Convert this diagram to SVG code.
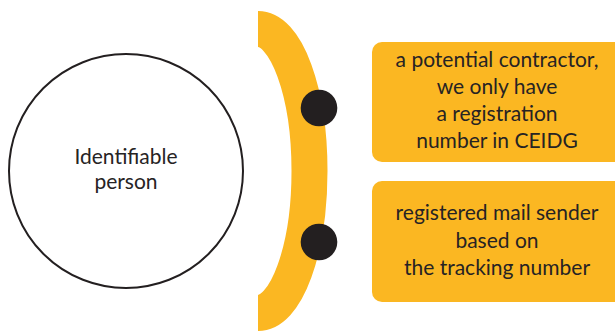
<svg xmlns="http://www.w3.org/2000/svg" width="615" height="331" viewBox="0 0 615 331">
  <style>
    .label { font-family: Lato, "Liberation Sans", sans-serif; font-size: 21px; fill: #262324; text-anchor: middle; }
    .box { fill: #FBB722; }
    .dot { fill: #231F20; }
  </style>
  <defs>
    <clipPath id="rightHalf">
      <rect x="258" y="0" width="120" height="331"/>
    </clipPath>
  </defs>
  <rect width="615" height="331" fill="#ffffff"/>

  <g id="person">
    <circle cx="126" cy="171" r="117" fill="#ffffff" stroke="#231F20" stroke-width="2"/>
    <text class="label" x="126" y="164">Identifiable</text>
    <text class="label" x="126" y="189">person</text>
  </g>

  <g id="connectors">
    <ellipse cx="258" cy="171" rx="51.5" ry="142" fill="none" stroke="#FBB722" stroke-width="36" clip-path="url(#rightHalf)"/>
    <circle class="dot" cx="319" cy="108" r="18.3"/>
    <circle class="dot" cx="319" cy="242" r="18.3"/>
  </g>

  <g id="contractor">
    <rect class="box" x="372" y="42" width="260" height="120" rx="10"/>
    <text class="label" x="497" y="67">a potential contractor,</text>
    <text class="label" x="497" y="94">we only have</text>
    <text class="label" x="497" y="121">a registration</text>
    <text class="label" x="497" y="148">number in CEIDG</text>
  </g>

  <g id="sender">
    <rect class="box" x="372" y="181" width="260" height="121" rx="10"/>
    <text class="label" x="497" y="220">registered mail sender</text>
    <text class="label" x="497" y="248">based on</text>
    <text class="label" x="497" y="275">the tracking number</text>
  </g>
</svg>
